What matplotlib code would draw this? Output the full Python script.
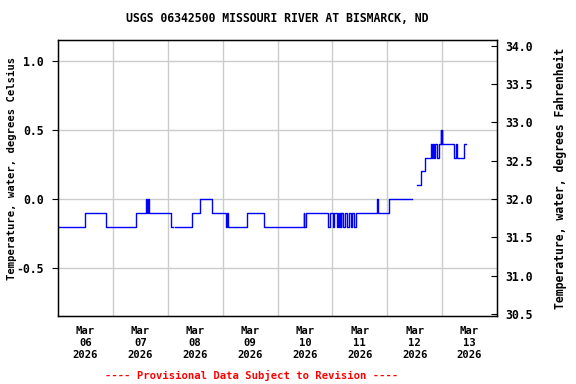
import numpy as np
import matplotlib
matplotlib.use("Agg")
import matplotlib.pyplot as plt
from matplotlib.ticker import FixedLocator, NullFormatter

# water temperature, step changes: hours since Mar 06 00:00 and value (deg C)
hours = [0.0, 12.0, 20.9, 34.3, 38.5, 38.8, 39.4, 39.9, 49.6, 50.2,
         51.3, 58.5, 62.0, 67.3, 73.6, 74.0, 74.4, 82.8, 90.3, 107.5,
         107.8, 108.3, 118.0, 119.1, 120.1, 120.7, 121.9, 122.3, 122.7, 123.2,
         123.6, 123.9, 124.5, 125.7, 126.2, 127.3, 128.0, 128.4, 129.3, 130.2,
         139.3, 139.8, 144.9, 154.8, 157.2, 158.7, 160.4, 163.1, 163.5, 163.9,
         164.4, 164.9, 165.9, 166.6, 167.4, 167.7, 167.9, 168.1, 173.2, 174.1,
         174.5, 177.4, 178.3]
temp_c = [-0.2, -0.1, -0.2, -0.1, 0.0, -0.1, 0.0, -0.1, -0.2, np.nan,
          -0.2, -0.1, 0.0, -0.1, -0.2, -0.1, -0.2, -0.1, -0.2, -0.1,
          -0.2, -0.1, -0.2, -0.1, -0.2, -0.1, -0.2, -0.1, -0.2, -0.1,
          -0.2, -0.1, -0.2, -0.1, -0.2, -0.1, -0.2, -0.1, -0.2, -0.1,
          0.0, -0.1, 0.0, np.nan, 0.1, 0.2, 0.3, 0.4, 0.3, 0.4,
          0.3, 0.4, 0.3, 0.4, 0.5, 0.4, 0.5, 0.4, 0.3, 0.4,
          0.3, 0.4, 0.4]
day_labels = ["Mar\n06\n2026", "Mar\n07\n2026", "Mar\n08\n2026", "Mar\n09\n2026",
              "Mar\n10\n2026", "Mar\n11\n2026", "Mar\n12\n2026", "Mar\n13\n2026"]
c_ticks = [-0.5, 0.0, 0.5, 1.0]
f_ticks = [30.5, 31.0, 31.5, 32.0, 32.5, 33.0, 33.5, 34.0]

font = {"family": "DejaVu Sans Mono", "weight": "bold", "size": 8.3}
small = dict(font, size=7.6)

fig = plt.figure(figsize=(5.76, 3.84), dpi=100)
ax = fig.add_axes([58/576, 1-316/384, 439/576, 276/384])

days = np.array(hours) / 24.0
ax.plot(days, temp_c, drawstyle="steps-post", color="#0000ff", lw=1.0)

ax.set_xlim(0, 8)
ylo, yhi = -0.848, 1.152
ax.set_ylim(ylo, yhi)

ax.xaxis.set_major_locator(FixedLocator(np.arange(1, 8)))
ax.xaxis.set_major_formatter(NullFormatter())
ax.xaxis.set_minor_locator(FixedLocator(np.arange(8) + 0.5))
ax.set_xticklabels(day_labels, minor=True, fontdict=small, linespacing=1.25)
ax.tick_params(axis="x", which="both", length=0, pad=7)

ax.set_yticks(c_ticks)
ax.set_yticklabels(["%.1f" % v for v in c_ticks], fontdict=font)
ax.tick_params(axis="y", direction="out", length=4, pad=6)
ax.grid(True, which="major", color="#cccccc", lw=1.0)
ax.set_axisbelow(True)
ax.set_ylabel("Temperature, water, degrees Celsius", fontdict=small)
ax.yaxis.set_label_coords((17 - 58) / 439, (316 - 168) / 276)
for s in ax.spines.values():
    s.set_linewidth(1.0)

ax2 = ax.twinx()
ax2.set_ylim(32 + 1.8 * ylo, 32 + 1.8 * yhi)
ax2.set_yticks(f_ticks)
ax2.set_yticklabels(["%.1f" % v for v in f_ticks], fontdict=font)
ax2.tick_params(axis="y", direction="in", length=4, pad=6)
ax2.set_ylabel("Temperature, water, degrees Fahrenheit", fontdict=font)
ax2.yaxis.set_label_coords((554 - 58) / 439, 0.5)

fig.text(277.5/576, 1-19/384, "USGS 06342500 MISSOURI RIVER AT BISMARCK, ND",
         ha="center", va="center", **font)
fig.text(252/576, 1-375/384, "---- Provisional Data Subject to Revision ----",
         color="red", ha="center", va="center", **dict(font, size=7.6))

fig.savefig("out.png", dpi=100)
